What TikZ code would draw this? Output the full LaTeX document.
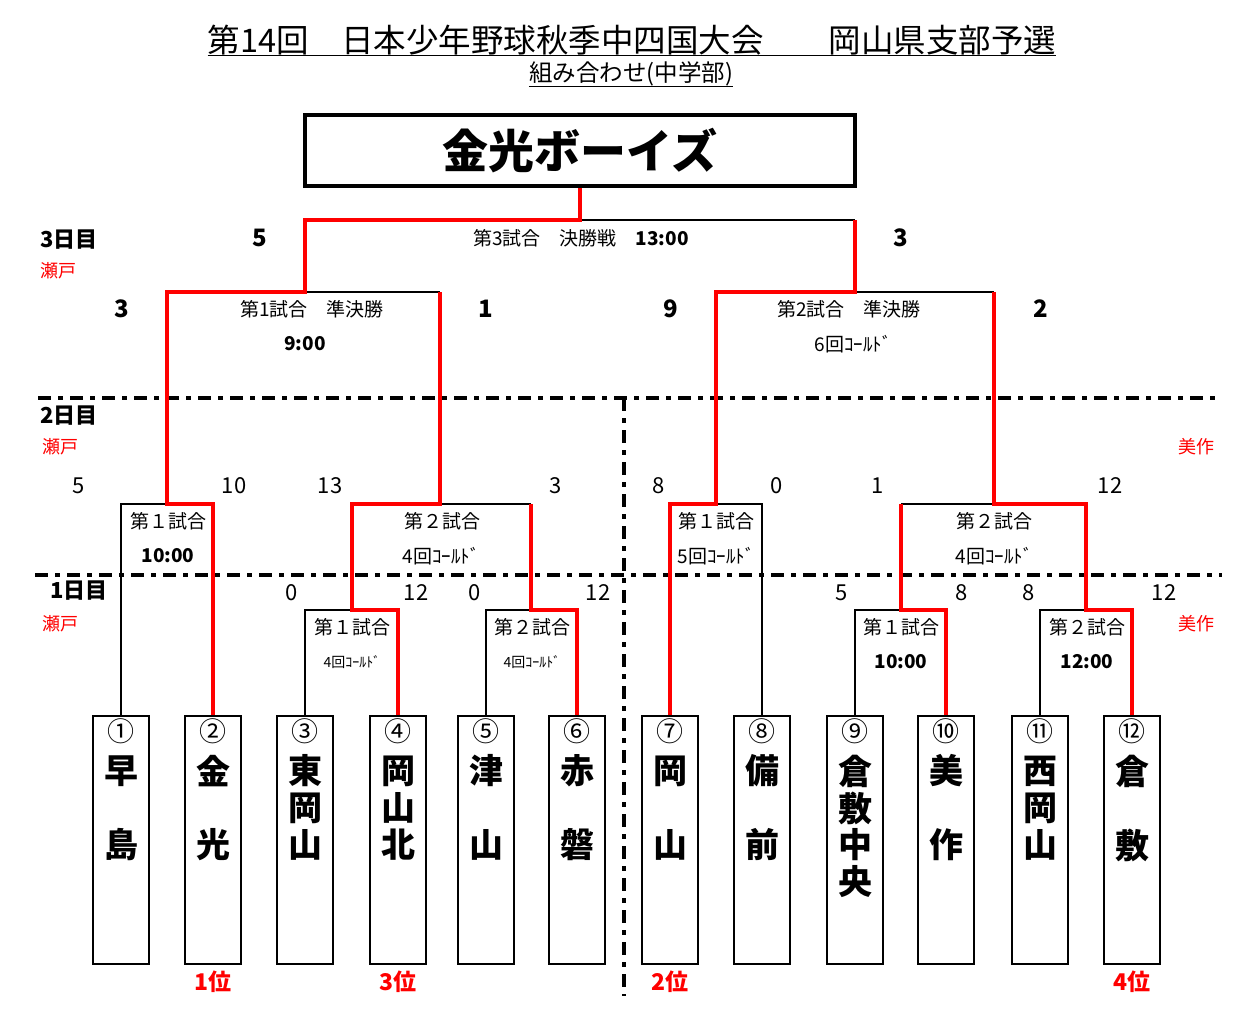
\documentclass[tikz,border=0pt]{standalone}
\usepackage{fontspec}
\setmainfont{Noto Sans CJK JP}
\newcommand{\fsz}[1]{\fontsize{#1}{#1}\selectfont}

\begin{document}
\begin{tikzpicture}[x=1pt,y=-1pt,
  win/.style={red, line width=4pt},
  lose/.style={black, line width=2pt},
  dayline/.style={black, line width=4pt, dash pattern=on 13pt off 7pt on 5pt off 7pt},
  team/.style={draw, line width=2pt, minimum width=56pt, minimum height=248pt, inner sep=0pt},
  tchar/.style={inner sep=0pt, font=\fsz{34}\bfseries},
  cnum/.style={inner sep=0pt, font=\fsz{27}},
  bigsc/.style={inner sep=0pt, font=\fsz{24}\bfseries},
  sc/.style={inner sep=0pt, font=\fsz{22}},
  game/.style={inner sep=0pt, font=\fsz{19}},
  gtime/.style={inner sep=0pt, font=\fsz{19}\bfseries},
  day/.style={inner sep=0pt, anchor=west, font=\fsz{22}\bfseries},
  site/.style={inner sep=0pt, anchor=west, red, font=\fsz{18}},
  rank/.style={inner sep=0pt, red, font=\fsz{23}\bfseries}]

	\useasboundingbox (0,0) rectangle (1240,1023);

	% Title
	\node[inner sep=0pt, font=\fsz{32.5}] (title) at (632,40) {第14回　日本少年野球秋季中四国大会　　岡山県支部予選};
	\draw[line width=1.5pt] (title.south west) -- (title.south east);
	\node[inner sep=0pt, font=\fsz{23.5}] (sub) at (631,74) {組み合わせ(中学部)};
	\draw[line width=1pt] (sub.south west) -- (sub.south east);

	% Champion
	\node[draw, line width=4pt, minimum width=550pt, minimum height=71pt, font=\fsz{46}\bfseries] (champ) at (580,150.5) {金光ボーイズ};

	% Day separators
	\draw[dayline] (38,398) -- (1222,398);
	\draw[dayline] (35,575) -- (1222,575);
	\draw[dayline] (624,398) -- (624,996);

	% Day labels
	\node[day] (day3) at (40,240) {3日目};
	\node[site] (site3) at (40,271) {瀬戸};
	\node[day] (day2) at (40,416) {2日目};
	\node[site] (site2l) at (42,447) {瀬戸};
	\node[site] (site2r) at (1178,447) {美作};
	\node[day] (day1) at (50,591) {1日目};
	\node[site] (site1l) at (42,624) {瀬戸};
	\node[site] (site1r) at (1178,624) {美作};

	% Teams
	\foreach \i/\x/\cn/\nm in {1/121/①/{早,,島}, 2/213/②/{金,,光}, 3/305/③/{東,岡,山},
		4/398/④/{岡,山,北}, 5/486/⑤/{津,,山}, 6/577/⑥/{赤,,磐}, 7/670/⑦/{岡,,山},
		8/762/⑧/{備,,前}, 9/855/⑨/{倉,敷,中,央}, 10/946/⑩/{美,,作},
		11/1040/⑪/{西,岡,山}, 12/1132/⑫/{倉,,敷}}{
		\node[team] (t\i) at (\x,840) {};
		\node[cnum] (c\i) at (\x,731) {\cn};
		\foreach \c [count=\r] in \nm {
			\node[tchar] (n\i-\r) at (\x,734+37*\r) {\c};
		}
	}

	% Match points
	\coordinate (d1a) at (352,610);
	\coordinate (d1b) at (531,610);
	\coordinate (d1c) at (901,610);
	\coordinate (d1d) at (1086,610);
	\coordinate (d2a) at (167,504);
	\coordinate (d2b) at (440,504);
	\coordinate (d2c) at (716,504);
	\coordinate (d2d) at (994,504);
	\coordinate (d3a) at (305,292);
	\coordinate (d3b) at (855,292);
	\coordinate (fin) at (580,220);

	% Losers
	\draw[lose] (t3.north) |- (d1a);
	\draw[lose] (t5.north) |- (d1b);
	\draw[lose] (t9.north) |- (d1c);
	\draw[lose] (t11.north) |- (d1d);
	\draw[lose] (t1.north) |- (d2a);
	\draw[lose] (d2b) -- (d1b |- d2b);
	\draw[lose] (t8.north) |- (d2c);
	\draw[lose] (d1c |- d2d) -- (d2d);
	\draw[lose] (d3a) -- (d2b |- d3a);
	\draw[lose] (d3b) -- (d2d |- d3b);
	\draw[lose] (fin) -- (d3b |- fin);

	% Winners
	\draw[win] (t2.north) |- (d2a) |- (d3a) |- (fin) -- (champ.south);
	\draw[win] (t4.north) |- (d1a) |- (d2b) -- (d2b |- d3a);
	\draw[win] (t6.north) |- (d1b) -- (d1b |- d2b);
	\draw[win] (t7.north) |- (d2c) |- (d3b) -- (d3b |- fin);
	\draw[win] (t10.north) |- (d1c) -- (d1c |- d2d);
	\draw[win] (t12.north) |- (d1d) |- (d2d) -- (d2d |- d3b);

	% Day 3
	\node[game] (g3) at (581,238) {第3試合　決勝戦　\textbf{13:00}};
	\node[game] (g3a) at (312,309) {第1試合　準決勝};
	\node[gtime] (g3at) at (305,344) {9:00};
	\node[game] (g3b) at (849,309) {第2試合　準決勝};
	\node[game] (g3bt) at (853,344) {6回ｺｰﾙﾄﾞ};
	\foreach \x/\y/\s [count=\k] in {260/238/5, 901/238/3, 122/309/3, 486/309/1, 671/309/9, 1041/309/2}
		\node[bigsc] (bs\k) at (\x,\y) {\s};

	% Day 2
	\node[game] (g2a) at (168,521) {第１試合};
	\node[gtime] (g2at) at (168,556) {10:00};
	\node[game] (g2b) at (442,521) {第２試合};
	\node[game] (g2bt) at (441,556) {4回ｺｰﾙﾄﾞ};
	\node[game] (g2c) at (716,521) {第１試合};
	\node[game] (g2ct) at (716,556) {5回ｺｰﾙﾄﾞ};
	\node[game] (g2d) at (994,521) {第２試合};
	\node[game] (g2dt) at (994,556) {4回ｺｰﾙﾄﾞ};

	% Day 1
	\node[game] (g1a) at (352,627) {第１試合};
	\node[game, font=\fsz{14}] (g1at) at (352,662) {4回ｺｰﾙﾄﾞ};
	\node[game] (g1b) at (532,627) {第２試合};
	\node[game, font=\fsz{14}] (g1bt) at (532,662) {4回ｺｰﾙﾄﾞ};
	\node[game] (g1c) at (901,627) {第１試合};
	\node[gtime] (g1ct) at (901,662) {10:00};
	\node[game] (g1d) at (1087,627) {第２試合};
	\node[gtime] (g1dt) at (1087,662) {12:00};

	% Scores day 2 and day 1
	\foreach \x/\y/\s [count=\k] in {79/486/5, 234/486/10, 330/486/13, 556/486/3,
		659/486/8, 777/486/0, 878/486/1, 1110/486/12,
		292/593/0, 416/593/12, 475/593/0, 598/593/12,
		842/593/5, 962/593/8, 1029/593/8, 1164/593/12}
		\node[sc] (s\k) at (\x,\y) {\s};

	% Ranks
	\node[rank] (r1) at (213,982) {1位};
	\node[rank] (r3) at (398,982) {3位};
	\node[rank] (r2) at (670,982) {2位};
	\node[rank] (r4) at (1132,982) {4位};

\end{tikzpicture}
\end{document}
